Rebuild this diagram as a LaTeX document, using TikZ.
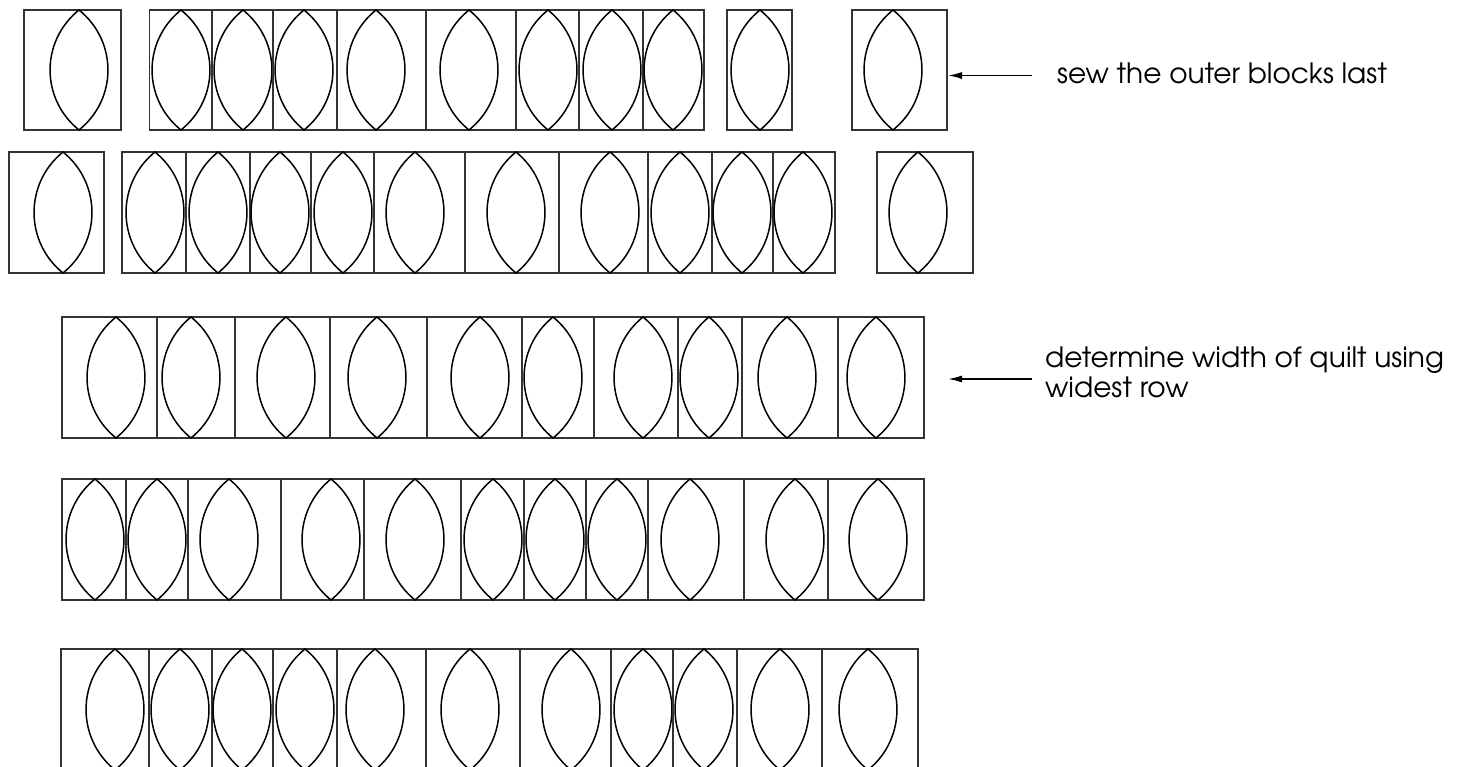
\documentclass[tikz,border=0pt]{standalone}
\usepackage{fontspec}
\setmainfont{TeX Gyre Adventor}
\usetikzlibrary{arrows.meta}
\newcommand\rt{0}
\newcommand\rb{0}
\newcommand\qblock[3]{%
  \draw[box] (#1,\rt) rectangle (#2,\rb);
  \draw[lens] (#3,\rt) .. controls (#3+38.6,\rt+31.1) and (#3+38.6,\rb-31.1) .. (#3,\rb)
    .. controls (#3-38.6,\rb-31.1) and (#3-38.6,\rt+31.1) .. (#3,\rt) -- cycle;}
\begin{document}
\begin{tikzpicture}[x=1pt,y=-1pt,
  box/.style={draw=black!80,line width=1.3pt},
  lens/.style={draw=black,line width=1.5pt,line join=miter},
  arr/.style={-{Latex[length=14pt,width=7pt]},line width=1.5pt},
  lbl/.style={font=\fontsize{28}{30}\selectfont,inner sep=0pt,anchor=base west,align=left}]
\useasboundingbox (0,0) rectangle (1480,767);
\clip (0,0) rectangle (1480,767);
% row 1
\renewcommand\rt{10}\renewcommand\rb{130}
\foreach \a/\b/\c in {24/121/79, 149.5/212/181, 212/273/243, 273/337/304, 337/426/376,
  426/516/469, 516/579/548, 579/643/612, 643/704/673, 727/792/760, 852/947/893}
  {\qblock{\a}{\b}{\c}}
% row 2
\renewcommand\rt{152}\renewcommand\rb{273}
\foreach \a/\b/\c in {9/104/63, 122/186/155, 186/250/218, 250/311/280, 311/374/343,
  374/465/415, 465/559/516, 559/648/610, 648/712/680, 712/773/742, 773/835/803, 877/973/918}
  {\qblock{\a}{\b}{\c}}
% row 3
\renewcommand\rt{317}\renewcommand\rb{438}
\foreach \a/\b/\c in {62/157/116, 157/235/191, 235/330/286, 330/427/377, 427/522/480,
  522/594/553, 594/678/643, 678/742/709, 742/838/787, 838/924/876}
  {\qblock{\a}{\b}{\c}}
% row 4
\renewcommand\rt{479}\renewcommand\rb{600}
\foreach \a/\b/\c in {62/126/95, 126/188/157, 188/281/229, 281/364/331, 364/461/415,
  461/524/493, 524/586/555, 586/648/617, 648/744/690, 744/828/795, 828/924/878}
  {\qblock{\a}{\b}{\c}}
% row 5
\renewcommand\rt{649}\renewcommand\rb{770}
\foreach \a/\b/\c in {61/149/115, 149/212/180, 212/273/242, 273/337/305, 337/426/375,
  426/520/470, 520/611/571, 611/673/643, 673/737/704, 737/822/780, 822/918/868}
  {\qblock{\a}{\b}{\c}}
% labels and arrows
\node[lbl] (t1) at (1057,84) {sew the outer blocks last};
\node[lbl] (t2) at (1045,397) {determine width of quilt using\\widest row};
\coordinate (a1s) at (1032,75.5);
\coordinate (a1e) at (948,75.5);
\coordinate (a2s) at (1032,379);
\coordinate (a2e) at (948,379);
\draw[arr] (a1s) -- (a1e);
\draw[arr] (a2s) -- (a2e);
\end{tikzpicture}
\end{document}
